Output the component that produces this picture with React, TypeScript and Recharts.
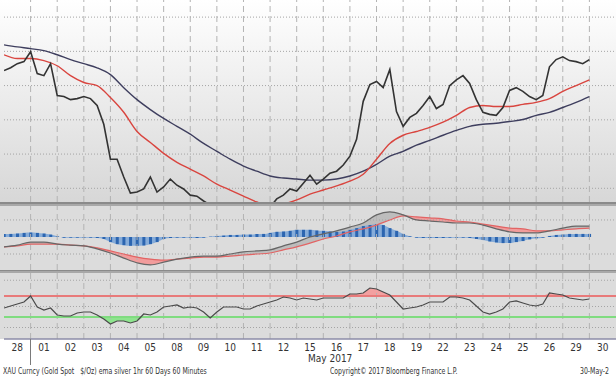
import React from 'react';
import { ComposedChart, Line, Area, Bar, XAxis, YAxis, ReferenceLine } from 'recharts';

// trading days shown on the x axis (Apr 28 -> May 30 2017)
const dayLabels = ['28', '01', '02', '03', '04', '05', '08', '09', '10', '11', '12', '15', '16', '17', '18', '19', '22', '23', '24', '25', '26', '29', '30'];

// price sampled every quarter day, moving averages / macd every half day
const STEP = 0.25;
const MA_STEP = 0.5;

const price = [
  1254.4, 1255.2, 1256.4, 1257.0, 1259.9, 1253.5, 1252.9, 1256.4, 1247.1, 1246.8,
  1245.9, 1246.2, 1246.8, 1246.2, 1244.2, 1238.7, 1228.5, 1228.5, 1223.3, 1218.6,
  1218.9, 1219.8, 1223.3, 1218.9, 1220.4, 1222.7, 1220.9, 1219.8, 1218.0, 1217.7,
  1216.3, 1215.1, 1214.0, 1213.4, 1212.8, 1213.4, 1212.5, 1214.0, 1213.4, 1212.8,
  1214.5, 1216.9, 1218.0, 1219.8, 1219.2, 1221.5, 1223.8, 1221.2, 1222.7, 1224.4,
  1225.0, 1226.8, 1229.4, 1234.3, 1245.4, 1250.3, 1251.2, 1249.4, 1254.7, 1242.4,
  1238.1, 1240.7, 1241.9, 1244.2, 1246.8, 1243.3, 1244.5, 1250.0, 1251.7, 1252.9,
  1250.6, 1245.9, 1242.2, 1241.6, 1241.3, 1243.6, 1248.6, 1249.4, 1248.3, 1246.8,
  1245.9, 1247.1, 1255.5, 1257.6, 1258.4, 1257.3, 1257.0, 1256.4, 1257.6,
];

const emaFast = [
  1259.0, 1257.9, 1257.9, 1257.3, 1255.8, 1252.9, 1250.9, 1250.0, 1246.5, 1242.2,
  1236.6, 1233.4, 1230.2, 1227.6, 1225.6, 1223.6, 1221.2, 1219.5, 1217.7, 1216.0,
  1214.8, 1215.4, 1216.6, 1218.3, 1219.5, 1220.7, 1222.1, 1224.1, 1228.5, 1233.1,
  1235.5, 1236.6, 1237.8, 1239.3, 1241.3, 1243.6, 1244.2, 1243.9, 1243.9, 1244.5,
  1245.1, 1246.2, 1248.3, 1250.0, 1251.7,
];

const emaSlow = [
  1261.9, 1261.3, 1260.8, 1260.2, 1259.0, 1257.6, 1256.4, 1255.2, 1253.2, 1249.4,
  1245.9, 1243.0, 1240.4, 1238.1, 1235.8, 1233.1, 1230.8, 1228.5, 1226.5, 1225.0,
  1223.6, 1223.0, 1222.7, 1222.4, 1222.4, 1222.7, 1223.6, 1225.0, 1227.0, 1229.4,
  1230.8, 1232.6, 1234.0, 1235.5, 1236.9, 1238.1, 1238.7, 1239.0, 1239.5, 1240.1,
  1241.3, 1242.2, 1243.6, 1245.1, 1246.8,
];

const macdLine = [
  -2.9, -2.4, -1.5, -1.5, -2.1, -2.4, -2.6, -3.5, -4.7, -6.2,
  -7.6, -8.2, -7.4, -6.5, -5.9, -5.6, -5.6, -5.0, -4.4, -4.1,
  -3.8, -2.6, -1.5, 0.0, 0.9, 1.8, 2.9, 4.1, 6.5, 7.4,
  6.5, 5.0, 4.7, 4.4, 4.1, 4.1, 3.5, 2.4, 1.5, 1.2,
  1.2, 1.8, 2.6, 3.2, 3.2,
];

const signalLine = [
  -2.9, -2.6, -2.1, -2.1, -2.1, -2.4, -2.6, -3.2, -4.1, -5.0,
  -5.9, -6.5, -6.8, -6.5, -6.2, -5.9, -5.9, -5.6, -5.3, -5.0,
  -4.7, -3.8, -2.9, -1.8, -0.6, 0.3, 1.5, 2.4, 3.5, 5.0,
  6.2, 5.9, 5.6, 5.3, 4.7, 4.4, 3.8, 3.2, 2.6, 2.4,
  1.8, 1.8, 2.1, 2.4, 2.6,
];

const histogram = [
  0.9, 0.9, 1.0, 1.2, 1.3, 1.2, 1.0, 0.7, 0.2, -0.2,
  -0.2, -0.2, -0.2, -0.2, -0.3, -0.6, -1.5, -2.1, -2.4, -2.6,
  -2.6, -2.5, -2.1, -1.5, -0.6, -0.3, -0.2, -0.2, -0.2, -0.3,
  -0.2, 0.1, 0.3, 0.4, 0.6, 0.6, 0.7, 0.7, 0.9, 0.9,
  1.2, 1.5, 1.6, 1.8, 2.1, 2.1, 2.1, 1.9, 1.8, 1.6,
  1.5, 1.6, 2.1, 2.6, 3.2, 3.5, 3.8, 3.5, 2.6, 1.8,
  0.9, 0.2, -0.2, -0.3, -0.3, -0.3, -0.3, -0.2, -0.2, -0.2,
  -0.3, -0.6, -0.9, -1.3, -1.6, -1.8, -1.8, -1.5, -1.2, -0.7,
  -0.4, -0.2, 0.3, 0.6, 0.7, 0.9, 0.9, 0.9, 0.9,
];

const rsi = [
  47.1, 51.0, 54.8, 58.6, 70.0, 49.0, 43.3, 47.1, 33.8, 31.9,
  31.9, 37.6, 39.5, 39.5, 33.8, 26.2, 16.7, 22.4, 22.4, 18.6,
  22.4, 35.7, 33.8, 39.5, 49.0, 51.0, 52.9, 47.1, 49.0, 47.1,
  39.5, 28.1, 39.5, 49.0, 49.0, 49.0, 45.2, 45.2, 51.0, 54.8,
  58.6, 62.4, 68.1, 66.2, 62.4, 66.2, 64.3, 62.4, 66.2, 66.2,
  66.2, 66.2, 73.8, 73.8, 75.7, 85.2, 83.3, 77.6, 71.9, 58.6,
  45.2, 47.1, 49.0, 52.9, 58.6, 58.6, 58.6, 68.1, 68.1, 66.2,
  62.4, 51.0, 39.5, 35.7, 39.5, 45.2, 58.6, 60.5, 56.7, 52.9,
  51.0, 54.8, 75.7, 73.8, 71.9, 66.2, 64.3, 62.4, 64.3,
];

const priceTicks = [1220, 1230, 1240, 1250, 1260, 1270];
const macdTicks = [-5, 5];
const rsiTicks = [10, 50, 100];
const rsiUpper = 70;
const rsiLower = 30;

const priceRows = price.map((p, i) => ({ t: i * STEP, price: p }));
const emaRows = emaFast.map((v, i) => ({ t: i * MA_STEP, fast: v, slow: emaSlow[i] }));
const histRows = histogram.map((h, i) => ({ t: i * STEP, hist: h }));
const macdRows = macdLine.map((m, i) => ({ t: i * MA_STEP, macd: m, signal: signalLine[i] }));
const rsiRows = rsi.map((r, i) => ({ t: i * STEP, rsi: r }));

const dayBreaks = dayLabels.slice(1).map((_, i) => i + 1);
const dayCenters = dayLabels.map((_, i) => i + 0.5);

const W = 616;
const margin = { top: 0, right: 0, bottom: 0, left: 4 };
const font = '"Liberation Sans Narrow", "DejaVu Sans Condensed", "Liberation Sans", sans-serif';

function grid(ticks: number[]) {
  return [
    ...ticks.map((v) => (
      <ReferenceLine key={'h' + v} y={v} stroke="#a4a4a4" strokeDasharray="1 2" ifOverflow="hidden" />
    )),
    ...dayBreaks.map((d) => (
      <ReferenceLine key={'v' + d} x={d} stroke="#b3b3b3" strokeDasharray="6 4" />
    )),
  ];
}

const xAxisHidden = <XAxis type="number" dataKey="t" domain={[0, dayLabels.length]} hide allowDataOverflow />;

const footer: React.CSSProperties = {
  position: 'absolute',
  top: 367,
  fontSize: 8,
  color: '#333',
  whiteSpace: 'pre',
  transform: 'scaleX(0.86)',
  transformOrigin: 'left top',
};

export default function App() {
  return (
    <div style={{ position: 'absolute', left: 0, top: 0, width: W, height: 388, background: '#fff', overflow: 'hidden', fontFamily: font }}>
      {/* panel backgrounds and separators */}
      <div style={{ position: 'absolute', left: 0, top: 0, width: W, height: 203, background: 'linear-gradient(#ffffff, #d7d7d7)' }} />
      <div style={{ position: 'absolute', left: 0, top: 206, width: W, height: 133, background: '#dcdcdc' }} />
      <div style={{ position: 'absolute', left: 0, top: 202, width: W, height: 2, background: '#8a8a8a', borderBottom: '2px solid #a8a8a8' }} />
      <div style={{ position: 'absolute', left: 0, top: 270, width: W, height: 1, background: '#8a8a8a', borderBottom: '2px solid #a8a8a8' }} />

      {/* price + emas */}
      <div style={{ position: 'absolute', left: 0, top: 0 }}>
        <ComposedChart width={W} height={202} data={priceRows} margin={margin}>
          {xAxisHidden}
          <YAxis domain={[1216, 1275]} hide allowDataOverflow />
          {grid(priceTicks)}
          <Line data={emaRows} dataKey="slow" type="monotone" stroke="#3e3e5e" strokeWidth={1.4} dot={false} isAnimationActive={false} />
          <Line data={emaRows} dataKey="fast" type="monotone" stroke="#d9453f" strokeWidth={1.4} dot={false} isAnimationActive={false} />
          <Line dataKey="price" type="linear" stroke="#333333" strokeWidth={1.6} dot={false} isAnimationActive={false} />
        </ComposedChart>
      </div>

      {/* macd */}
      <div style={{ position: 'absolute', left: 0, top: 206 }}>
        <ComposedChart width={W} height={64} data={histRows} margin={margin}>
          {xAxisHidden}
          <YAxis domain={[-9.7, 9.1]} hide allowDataOverflow />
          {grid(macdTicks)}
          <Area data={macdRows} dataKey={(d: any) => [d.signal, Math.max(d.macd, d.signal)]} type="monotone" fill="#bdbdbd" fillOpacity={1} stroke="none" isAnimationActive={false} />
          <Area data={macdRows} dataKey={(d: any) => [Math.min(d.macd, d.signal), d.signal]} type="monotone" fill="#f19c9c" fillOpacity={1} stroke="none" isAnimationActive={false} />
          <Area dataKey="hist" type="monotone" baseValue={0} fill="#86acd9" fillOpacity={1} stroke="none" isAnimationActive={false} />
          <Bar dataKey="hist" fill="#2c65b0" barSize={3} isAnimationActive={false} />
          <Line data={macdRows} dataKey="signal" type="monotone" stroke="#e26464" strokeWidth={1.2} dot={false} isAnimationActive={false} />
          <Line data={macdRows} dataKey="macd" type="monotone" stroke="#666666" strokeWidth={1.2} dot={false} isAnimationActive={false} />
        </ComposedChart>
      </div>

      {/* rsi + date axis */}
      <div style={{ position: 'absolute', left: 0, top: 273 }}>
        <ComposedChart width={W} height={82} data={rsiRows} margin={margin}>
          <XAxis
            type="number"
            dataKey="t"
            domain={[0, dayLabels.length]}
            ticks={dayCenters}
            interval={0}
            tickFormatter={(v: number) => dayLabels[Math.floor(v)]}
            tickLine={false}
            tickSize={0}
            tickMargin={5}
            height={16}
            axisLine={{ stroke: '#8c8ca8', strokeWidth: 1.5 }}
            tick={{ fontSize: 10, fill: '#333', fontFamily: font }}
            allowDataOverflow
          />
          <YAxis domain={[-11.9, 113.8]} hide allowDataOverflow />
          {grid(rsiTicks)}
          <Area dataKey={(d: any) => [rsiUpper, Math.max(d.rsi, rsiUpper)]} type="linear" fill="#f2a0a0" fillOpacity={1} stroke="none" isAnimationActive={false} />
          <Area dataKey={(d: any) => [Math.min(d.rsi, rsiLower), rsiLower]} type="linear" fill="#8ee48e" fillOpacity={1} stroke="none" isAnimationActive={false} />
          <ReferenceLine y={rsiUpper} stroke="#e87a7a" strokeWidth={2} />
          <ReferenceLine y={rsiLower} stroke="#80dc80" strokeWidth={2} />
          <Line dataKey="rsi" type="linear" stroke="#4a4a4a" strokeWidth={1.2} dot={false} isAnimationActive={false} />
        </ComposedChart>
      </div>

      {/* month start marker and footer text */}
      <div style={{ position: 'absolute', left: 30, top: 339, width: 1, height: 26, background: '#7a7a7a' }} />
      <div style={{ position: 'absolute', left: 308, top: 353, fontSize: 10, color: '#333', whiteSpace: 'nowrap' }}>May 2017</div>
      <div style={{ ...footer, left: 3 }}>XAU Curncy (Gold Spot   $/Oz) ema silver 1hr 60 Days 60 Minutes</div>
      <div style={{ ...footer, left: 330 }}>Copyright© 2017 Bloomberg Finance L.P.</div>
      <div style={{ ...footer, left: 580 }}>30-May-2</div>
    </div>
  );
}
